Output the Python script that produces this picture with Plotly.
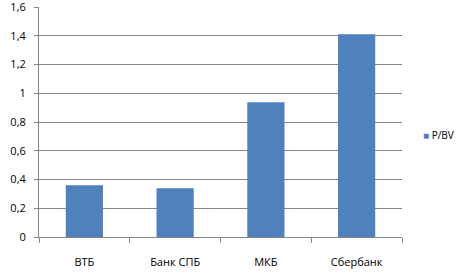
import plotly.graph_objects as go

categories = ["ВТБ", "Банк СПБ", "МКБ", "Сбербанк"]
pbv_values = [0.36, 0.34, 0.937, 1.41]
series_name = "P/BV"
y_tick_vals = [0, 0.2, 0.4, 0.6, 0.8, 1.0, 1.2, 1.4, 1.6]
y_tick_text = ["0", "0,2", "0,4", "0,6", "0,8", "1", "1,2", "1,4", "1,6"]

bar_color = "#4F81BD"
grid_color = "#868686"
font_family = "Open Sans"

fig = go.Figure()
fig.add_trace(go.Bar(x=categories, y=pbv_values, name=series_name,
                     marker=dict(color=bar_color, line=dict(width=0)),
                     showlegend=False))

fig.update_layout(
    width=466, height=275,
    margin=dict(l=39, r=64, t=7, b=38),
    paper_bgcolor="white", plot_bgcolor="white",
    bargap=0.59,
    font=dict(family=font_family, size=11, color="#000000"),
    xaxis=dict(showline=True, linecolor=grid_color, linewidth=1,
               ticks="outside", ticklen=5, tickcolor=grid_color,
               tickson="boundaries", showgrid=False,
               ticklabelstandoff=15, automargin=False),
    yaxis=dict(range=[0, 1.6004], tickvals=y_tick_vals, ticktext=y_tick_text,
               showline=True, linecolor=grid_color, linewidth=1,
               ticks="outside", ticklen=4, tickcolor=grid_color,
               showgrid=True, gridcolor=grid_color, gridwidth=1,
               zeroline=False, ticklabelstandoff=6,
               ticklabeloverflow="allow", automargin=False),
)

# legend (drawn as annotation to match the compact spreadsheet-style legend)
fig.add_annotation(xref="paper", yref="paper", x=1.0 + (421 - 402) / 363.0,
                   y=(237 - 135) / 230.0, xanchor="left", yanchor="middle",
                   showarrow=False,
                   text=f'<span style="color:{bar_color}">■</span> {series_name}',
                   font=dict(family=font_family, size=10, color="#000000"))

fig.write_html("out.html")
